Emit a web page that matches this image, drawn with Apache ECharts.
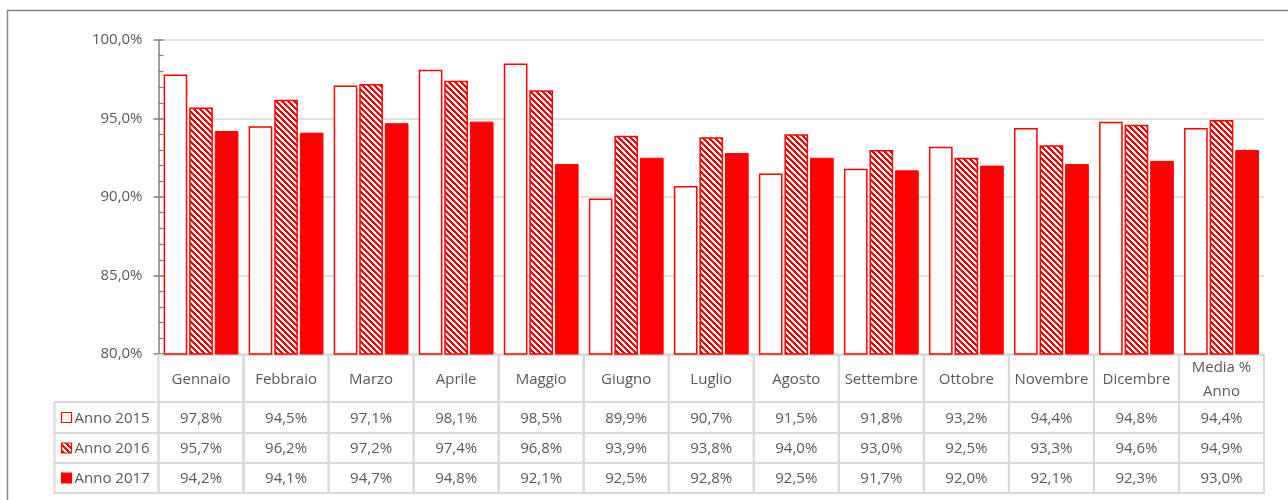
<!DOCTYPE html>
<html>
<head>
<meta charset="utf-8">
<script src="https://cdn.jsdelivr.net/npm/echarts@6/dist/echarts.min.js"></script>
<style>
  html, body { margin: 0; padding: 0; background: #fff; }
  #chart { width: 1288px; height: 500px; }
</style>
</head>
<body>
<div id="chart"></div>
<script>
// Monthly percentages per year, plus the yearly average column
const CATEGORIES = ['Gennaio', 'Febbraio', 'Marzo', 'Aprile', 'Maggio', 'Giugno', 'Luglio',
  'Agosto', 'Settembre', 'Ottobre', 'Novembre', 'Dicembre', 'Media %\nAnno'];
const SERIES_NAMES = ['Anno 2015', 'Anno 2016', 'Anno 2017'];
const VALUES_2015 = [97.8, 94.5, 97.1, 98.1, 98.5, 89.9, 90.7, 91.5, 91.8, 93.2, 94.4, 94.8, 94.4];
const VALUES_2016 = [95.7, 96.2, 97.2, 97.4, 96.8, 93.9, 93.8, 94.0, 93.0, 92.5, 93.3, 94.6, 94.9];
const VALUES_2017 = [94.2, 94.1, 94.7, 94.8, 92.1, 92.5, 92.8, 92.5, 91.7, 92.0, 92.1, 92.3, 93.0];
const Y_MIN = 80, Y_MAX = 100, Y_STEP = 5;

const SERIES_VALUES = [VALUES_2015, VALUES_2016, VALUES_2017];

// layout
const FONT = '"Open Sans", "Liberation Sans", sans-serif';
const TEXT_COLOR = '#595959';
const RED = '#ff0000';
const TABLE_LINE = '#d9d9d9';
const PLOT_LEFT = 158.5, PLOT_RIGHT = 24, PLOT_TOP = 40, PLOT_BOTTOM_Y = 354;
const TABLE_TOP = 355, TABLE_HEIGHT = 138;
const ROW_EDGES = [0, 47, 78, 108, 138];   // header row + three data rows (px within table)
const LABEL_COL_WIDTH = 104;

const fmt = v => v.toFixed(1).replace('.', ',') + '%';

// diagonal hatch fill used for the 2016 series
function makeHatch() {
  const c = document.createElement('canvas');
  const n = 6;
  c.width = n; c.height = n;
  const ctx = c.getContext('2d');
  ctx.fillStyle = '#ffffff';
  ctx.fillRect(0, 0, n, n);
  ctx.fillStyle = RED;
  for (let y = 0; y < n; y++) {
    for (let x = 0; x < n; x++) {
      if (((x - y) % n + n) % n < 3) ctx.fillRect(x, y, 1, 1);
    }
  }
  return c;
}
const hatch = makeHatch();
const hatchFill = { image: hatch, repeat: 'repeat' };

const BAR_STYLES = [
  { color: '#ffffff', borderColor: RED, borderWidth: 1.5 },
  { color: hatchFill, borderColor: RED, borderWidth: 1.5 },
  { color: RED, borderColor: RED, borderWidth: 1 }
];

// table cells: header row (row 0) and one row per series
const tableCells = [];
CATEGORIES.forEach((c, i) => tableCells.push({ col: i, row: 0, text: c }));
SERIES_VALUES.forEach((vals, r) => vals.forEach((v, i) => tableCells.push({ col: i, row: r + 1, text: fmt(v) })));

function renderCell(params, api) {
  const cell = tableCells[params.dataIndex];
  const cx = api.coord([cell.col, 0])[0];
  const w = api.size([1, 0])[0];
  const y0 = api.coord([cell.col, ROW_EDGES[cell.row]])[1];
  const y1 = api.coord([cell.col, ROW_EDGES[cell.row + 1]])[1];
  return {
    type: 'group',
    children: [
      { type: 'rect', shape: { x: cx - w / 2, y: y0, width: w, height: y1 - y0 },
        style: { fill: null, stroke: TABLE_LINE, lineWidth: 2 } },
      { type: 'text', style: { text: cell.text, x: cx, y: (y0 + y1) / 2 + 1, align: 'center',
        verticalAlign: 'middle', fill: TEXT_COLOR, font: '15px ' + FONT, lineHeight: 24 } }
    ]
  };
}

function renderRowLabel(params, api) {
  const r = params.dataIndex;
  const left = api.coord([0, 0])[0] - api.size([1, 0])[0] / 2 - LABEL_COL_WIDTH;
  const y0 = api.coord([0, ROW_EDGES[r + 1]])[1];
  const y1 = api.coord([0, ROW_EDGES[r + 2]])[1];
  const ym = (y0 + y1) / 2;
  const st = BAR_STYLES[r];
  return {
    type: 'group',
    children: [
      { type: 'rect', shape: { x: left, y: y0, width: LABEL_COL_WIDTH, height: y1 - y0 },
        style: { fill: null, stroke: TABLE_LINE, lineWidth: 2 } },
      { type: 'rect', shape: { x: left + 7, y: ym - 5, width: 10, height: 10 },
        style: { fill: st.color, stroke: RED, lineWidth: 1.2 } },
      { type: 'text', style: { text: SERIES_NAMES[r], x: left + 20, y: ym + 1, align: 'left',
        verticalAlign: 'middle', fill: TEXT_COLOR, font: '15px ' + FONT } }
    ]
  };
}

const chart = echarts.init(document.getElementById('chart'), null, { renderer: 'canvas' });

const option = {
  animation: false,
  backgroundColor: '#ffffff',
  graphic: [{
    type: 'rect', shape: { x: 7.5, y: 10.5, width: 1400, height: 700 },
    style: { fill: null, stroke: '#868686', lineWidth: 1.5 }, z: 100, silent: true
  }],
  grid: [
    { left: PLOT_LEFT, right: PLOT_RIGHT, top: PLOT_TOP, height: PLOT_BOTTOM_Y - PLOT_TOP },
    { left: PLOT_LEFT, right: PLOT_RIGHT, top: TABLE_TOP, height: TABLE_HEIGHT }
  ],
  xAxis: [
    { type: 'category', gridIndex: 0, data: CATEGORIES, axisLine: { show: false },
      axisTick: { show: false }, axisLabel: { show: false }, splitLine: { show: false } },
    { type: 'category', gridIndex: 1, data: CATEGORIES, show: false }
  ],
  yAxis: [
    { type: 'value', gridIndex: 0, min: Y_MIN, max: Y_MAX, interval: Y_STEP,
      axisLine: { show: true, lineStyle: { color: '#808080', width: 1.5 } },
      axisTick: { show: true, inside: true, length: 5, lineStyle: { color: '#808080', width: 1.5 } },
      minorTick: { show: true, splitNumber: 5, length: 5, lineStyle: { color: '#808080', width: 1.2 } },
      axisLabel: { formatter: v => v.toFixed(1).replace('.', ',') + '%', color: TEXT_COLOR,
        fontFamily: FONT, fontSize: 15, margin: 16 },
      splitLine: { show: true, lineStyle: { color: '#d9d9d9', width: 1.5 } } },
    { type: 'value', gridIndex: 0, min: Y_MIN, max: Y_MAX, interval: Y_STEP, position: 'left',
      axisLine: { show: false }, axisLabel: { show: false }, splitLine: { show: false },
      axisTick: { show: true, inside: false, length: 5, lineStyle: { color: '#808080', width: 1.5 } } },
    { type: 'value', gridIndex: 1, min: 0, max: ROW_EDGES[ROW_EDGES.length - 1], inverse: true, show: false }
  ],
  series: [
    ...SERIES_NAMES.map((name, k) => ({
      name, type: 'bar', xAxisIndex: 0, yAxisIndex: 0,
      data: SERIES_VALUES[k],
      barCategoryGap: '12%', barGap: '8%',
      itemStyle: BAR_STYLES[k],
      emphasis: { disabled: true }
    })),
    { type: 'custom', xAxisIndex: 1, yAxisIndex: 2, renderItem: renderCell,
      data: tableCells.map(c => [c.col, c.row]), clip: false, silent: true },
    { type: 'custom', xAxisIndex: 1, yAxisIndex: 2, renderItem: renderRowLabel,
      data: SERIES_NAMES.map((n, r) => [0, r + 1]), clip: false, silent: true }
  ]
};

chart.setOption(option);
</script>
</body>
</html>
